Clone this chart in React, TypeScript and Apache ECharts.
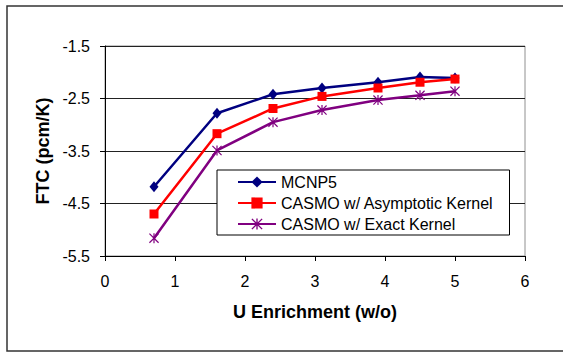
import React, { useEffect, useRef } from "react";
import * as echarts from "echarts";

const enrichment = [0.7, 1.6, 2.4, 3.1, 3.9, 4.5, 5.0];
const mcnp5 = [-4.18, -2.78, -2.42, -2.3, -2.19, -2.09, -2.11];
const casmoAsym = [-4.7, -3.17, -2.69, -2.46, -2.3, -2.19, -2.13];
const casmoExact = [-5.16, -3.49, -2.95, -2.72, -2.53, -2.44, -2.36];
const seriesNames = ["MCNP5", "CASMO w/ Asymptotic Kernel", "CASMO w/ Exact Kernel"];

const asterisk =
  "path://M4.4 0 L5.6 0 L5.6 10 L4.4 10 Z M0 0.85 L0.85 0 L10 9.15 L9.15 10 Z M9.15 0 L10 0.85 L0.85 10 L0 9.15 Z";

const FONT = "'Liberation Sans', Arial, sans-serif";

export default function App() {
  const ref = useRef<HTMLDivElement>(null);
  useEffect(() => {
    if (!ref.current) return;
    const chart = echarts.init(ref.current, undefined, { renderer: "svg" });
    const pair = (ys: number[]) => enrichment.map((x, i) => [x, ys[i]]);
    chart.setOption({
      animation: false,
      backgroundColor: "#fff",
      textStyle: { fontFamily: FONT },
      grid: {
        left: 105,
        right: 38,
        top: 46,
        bottom: 96,
        show: true,
        borderColor: "#909090",
        borderWidth: 1,
      },
      graphic: [
        {
          type: "rect",
          shape: { x: 7, y: 6, width: 570, height: 345 },
          style: { fill: "none", stroke: "#333", lineWidth: 1.5 },
          silent: true,
        },
      ],
      xAxis: {
        type: "value",
        min: 0,
        max: 6,
        interval: 1,
        name: "U Enrichment (w/o)",
        nameLocation: "middle",
        nameGap: 47,
        nameTextStyle: { fontFamily: FONT, fontSize: 18, fontWeight: "bold", color: "#000" },
        axisLine: { onZero: false, lineStyle: { color: "#000", width: 1 } },
        axisTick: { show: true, inside: false, length: 5, lineStyle: { color: "#000" } },
        axisLabel: { fontFamily: FONT, fontSize: 16, color: "#000", margin: 17 },
        splitLine: { show: false },
      },
      yAxis: {
        type: "value",
        min: -5.5,
        max: -1.5,
        interval: 1,
        name: "FTC (pcm/K)",
        nameLocation: "middle",
        nameGap: 52,
        nameRotate: 90,
        nameTextStyle: { fontFamily: FONT, fontSize: 18, fontWeight: "bold", color: "#000" },
        axisLine: { show: true, onZero: false, lineStyle: { color: "#000", width: 1 } },
        axisTick: { show: true, inside: false, length: 5, lineStyle: { color: "#000" } },
        axisLabel: {
          fontFamily: FONT,
          fontSize: 16,
          color: "#000",
          margin: 15,
          formatter: (v: number) => v.toFixed(1),
        },
        splitLine: { show: true, lineStyle: { color: "#222", width: 1 } },
      },
      legend: {
        orient: "vertical",
        left: 217,
        top: 170,
        padding: [4, 16, 3, 20],
        itemWidth: 38,
        itemHeight: 14,
        itemGap: 5,
        backgroundColor: "#fff",
        borderColor: "#000",
        borderWidth: 1,
        borderRadius: 0,
        textStyle: { fontFamily: FONT, fontSize: 16, color: "#000" },
        data: seriesNames,
      },
      series: [
        {
          name: seriesNames[0],
          type: "line",
          data: pair(mcnp5),
          symbol: "diamond",
          symbolSize: [9, 11],
          lineStyle: { color: "#000080", width: 2.5 },
          itemStyle: { color: "#000080" },
        },
        {
          name: seriesNames[1],
          type: "line",
          data: pair(casmoAsym),
          symbol: "rect",
          symbolSize: 9,
          lineStyle: { color: "#ff0000", width: 2.5 },
          itemStyle: { color: "#ff0000" },
        },
        {
          name: seriesNames[2],
          type: "line",
          data: pair(casmoExact),
          symbol: asterisk,
          symbolSize: 10,
          lineStyle: { color: "#800080", width: 2.5 },
          itemStyle: { color: "#800080" },
        },
      ],
    });
    return () => chart.dispose();
  }, []);
  return <div ref={ref} style={{ width: 563, height: 352, position: "absolute", left: 0, top: 0 }} />;
}
